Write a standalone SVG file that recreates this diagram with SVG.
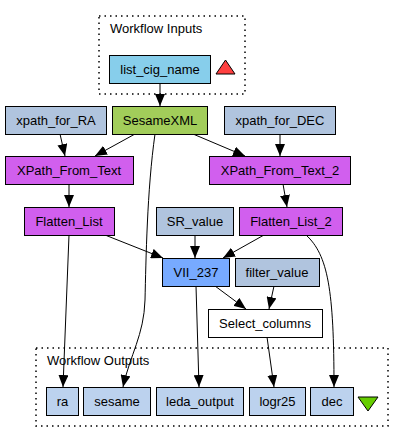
<svg xmlns="http://www.w3.org/2000/svg" width="404" height="443" viewBox="0 0 404 443">
<style>
text{font-family:"Liberation Sans",Arial,sans-serif;font-size:13px;fill:#000}
.n{text-anchor:middle}
.box{stroke:#000;stroke-width:1}
.proc{fill:#d15fee}
.const{fill:#b0c4de}
.out{fill:#bcd2ee}
.cl{fill:none;stroke:#000;stroke-width:1.5;stroke-dasharray:1.5,4}
.e{fill:none;stroke:#000;stroke-width:1;marker-end:url(#ah)}
</style>
<defs>
<marker id="ah" viewBox="0 0 12 10" refX="12" refY="5" markerWidth="12" markerHeight="10" markerUnits="userSpaceOnUse" orient="auto">
<path d="M0,0 L12,5 L0,10 z" fill="#000"/>
</marker>
</defs>
<rect width="404" height="443" fill="#fff"/>
<g id="cluster_inputs">
<rect class="cl" x="99" y="16" width="146" height="78"/>
<text x="110" y="33">Workflow Inputs</text>
<polygon points="216,74 235,74 225.5,60" fill="#ff4040" stroke="#000" stroke-width="1"/>
</g>
<g id="cluster_outputs">
<rect class="cl" x="36" y="348" width="352" height="78"/>
<text x="47" y="365">Workflow Outputs</text>
<polygon points="358,397 378,397 368,411" fill="#66cd00" stroke="#000" stroke-width="1"/>
</g>
<g id="connectors">
<path class="e" d="M160,83 L160,106"/>
<path class="e" d="M60,134 L65,156"/>
<path class="e" d="M135,134 L95,156"/>
<path class="e" d="M155,134 C147,190 146,260 145,300 C144,335 130,355 123,387"/>
<path class="e" d="M193,134 L245,156"/>
<path class="e" d="M280,134 L280,156"/>
<path class="e" d="M69,184 L69,207"/>
<path class="e" d="M283,184 L287,207"/>
<path class="e" d="M105,235 L163,258"/>
<path class="e" d="M69,235 L63,387"/>
<path class="e" d="M195,235 L195,258"/>
<path class="e" d="M264,235 L223,258"/>
<path class="e" d="M306,235 C328,255 334,290 334,387"/>
<path class="e" d="M196,286 L199,387"/>
<path class="e" d="M215,286 L246,309"/>
<path class="e" d="M274,286 L269,309"/>
<path class="e" d="M267,337 L274,387"/>
</g>
<g id="list_cig_name"><rect class="box" x="109.5" y="55.5" width="101" height="28" fill="#87ceeb"/><text class="n" x="160" y="74">list_cig_name</text></g>
<g id="xpath_for_RA"><rect class="box const" x="5.5" y="106.5" width="101" height="28"/><text class="n" x="56" y="125">xpath_for_RA</text></g>
<g id="SesameXML"><rect class="box" x="112.5" y="106.5" width="95" height="28" fill="#a2cd5a"/><text class="n" x="160" y="125">SesameXML</text></g>
<g id="xpath_for_DEC"><rect class="box const" x="224.5" y="106.5" width="111" height="28"/><text class="n" x="280" y="125">xpath_for_DEC</text></g>
<g id="XPath_From_Text"><rect class="box proc" x="5.5" y="156.5" width="128" height="28"/><text class="n" x="69" y="175">XPath_From_Text</text></g>
<g id="XPath_From_Text_2"><rect class="box proc" x="209.5" y="156.5" width="141" height="28"/><text class="n" x="280" y="175">XPath_From_Text_2</text></g>
<g id="Flatten_List"><rect class="box proc" x="24.5" y="207.5" width="90" height="28"/><text class="n" x="69" y="226">Flatten_List</text></g>
<g id="SR_value"><rect class="box const" x="156.5" y="207.5" width="77" height="28"/><text class="n" x="195" y="226">SR_value</text></g>
<g id="Flatten_List_2"><rect class="box proc" x="239.5" y="207.5" width="103" height="28"/><text class="n" x="291" y="226">Flatten_List_2</text></g>
<g id="VII_237"><rect class="box" x="162.5" y="258.5" width="67" height="28" fill="#77aaff"/><text class="n" x="196" y="277">VII_237</text></g>
<g id="filter_value"><rect class="box const" x="235.5" y="258.5" width="84" height="28"/><text class="n" x="277" y="277">filter_value</text></g>
<g id="Select_columns"><rect class="box" x="208.5" y="309.5" width="114" height="28" fill="#fff"/><text class="n" x="265" y="328">Select_columns</text></g>
<g id="ra"><rect class="box out" x="46.5" y="387.5" width="32" height="28"/><text class="n" x="62.5" y="406">ra</text></g>
<g id="sesame"><rect class="box out" x="83.5" y="387.5" width="67" height="28"/><text class="n" x="117" y="406">sesame</text></g>
<g id="leda_output"><rect class="box out" x="156.5" y="387.5" width="87" height="28"/><text class="n" x="200" y="406">leda_output</text></g>
<g id="logr25"><rect class="box out" x="249.5" y="387.5" width="56" height="28"/><text class="n" x="277.5" y="406">logr25</text></g>
<g id="dec"><rect class="box out" x="310.5" y="387.5" width="43" height="28"/><text class="n" x="332" y="406">dec</text></g>
</svg>
